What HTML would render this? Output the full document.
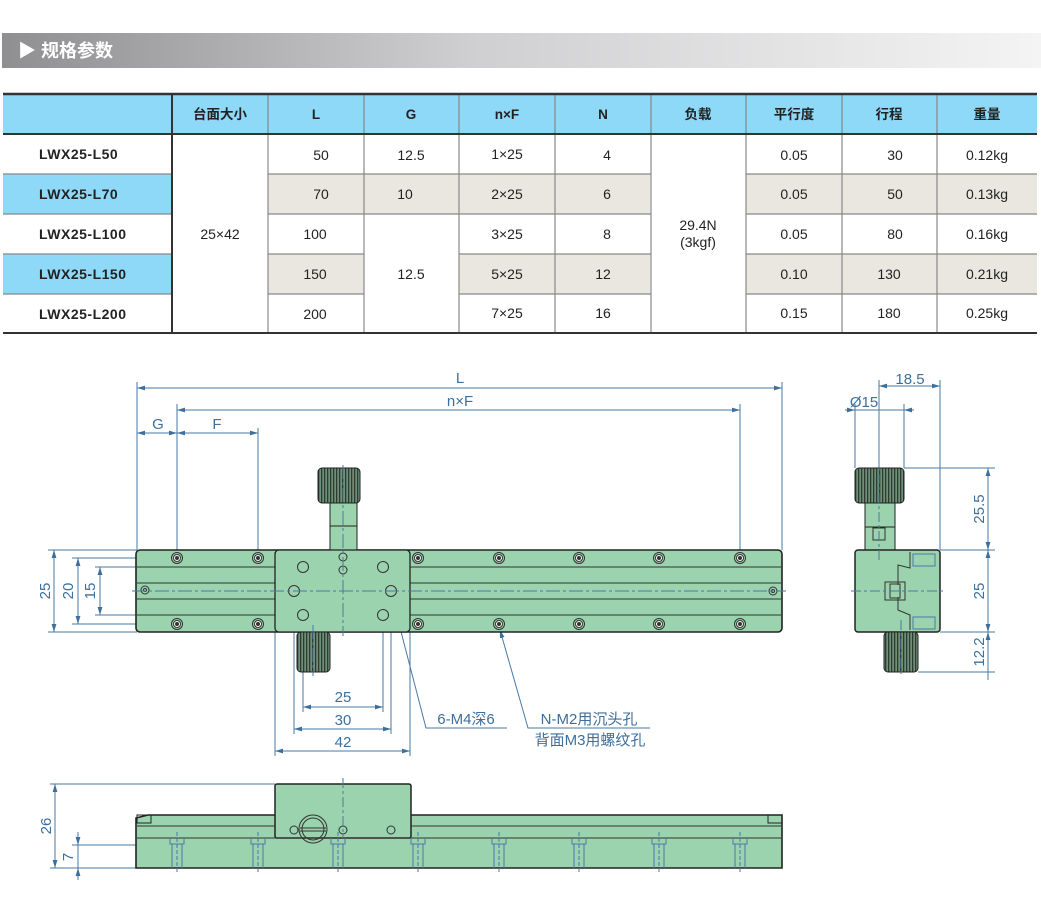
<!DOCTYPE html>
<html><head><meta charset="utf-8"><style>
html,body{margin:0;padding:0;background:#fff;width:1041px;height:909px;overflow:hidden}
svg{display:block}
text{font-family:"Liberation Sans","Noto Sans CJK SC",sans-serif}
</style></head><body>
<svg width="1041" height="909" viewBox="0 0 1041 909" xmlns="http://www.w3.org/2000/svg">
<defs>
<linearGradient id="tg" x1="0" x2="1"><stop offset="0" stop-color="#8f8f91"/><stop offset="0.45" stop-color="#cfcfd1"/><stop offset="1" stop-color="#f4f4f4"/></linearGradient>
<marker id="a" viewBox="0 0 10 10" refX="10" refY="5" markerWidth="8" markerHeight="8" orient="auto-start-reverse"><path d="M0,2 L10,5 L0,8z" fill="#3d6f9c"/></marker>
<pattern id="kn" width="3" height="4" patternUnits="userSpaceOnUse"><rect width="3" height="4" fill="#6f8f78"/><rect width="1.3" height="4" fill="#2d3b31"/></pattern>
</defs>
<rect x="2" y="33" width="1039" height="35" fill="url(#tg)"/>
<text x="18" y="57" font-size="18" font-weight="bold" fill="#fff">▶ 规格参数</text>

<g font-size="14" fill="#222">
<rect x="3" y="95" width="1034" height="39" fill="#8ed8f8"/>
<rect x="3" y="174" width="169" height="40" fill="#8ed8f8"/>
<rect x="3" y="254" width="169" height="40" fill="#8ed8f8"/>
<g fill="#eae7e0">
<rect x="268" y="174" width="382" height="40"/><rect x="746" y="174" width="291" height="40"/>
<rect x="268" y="254" width="96" height="40"/><rect x="459" y="254" width="191" height="40"/><rect x="746" y="254" width="291" height="40"/>
</g>
<g stroke="#888" stroke-width="1.2">
<line x1="3" y1="174" x2="172" y2="174"/><line x1="3" y1="214" x2="172" y2="214"/><line x1="3" y1="254" x2="172" y2="254"/><line x1="3" y1="294" x2="172" y2="294"/>
<line x1="268" y1="174" x2="651" y2="174"/><line x1="268" y1="214" x2="651" y2="214"/><line x1="268" y1="254" x2="364" y2="254"/><line x1="459" y1="254" x2="651" y2="254"/><line x1="268" y1="294" x2="364" y2="294"/><line x1="459" y1="294" x2="651" y2="294"/>
<line x1="746" y1="174" x2="1037" y2="174"/><line x1="746" y1="214" x2="1037" y2="214"/><line x1="746" y1="254" x2="1037" y2="254"/><line x1="746" y1="294" x2="1037" y2="294"/>
<line x1="268" y1="95" x2="268" y2="333"/><line x1="364" y1="95" x2="364" y2="333"/><line x1="459" y1="95" x2="459" y2="333"/><line x1="555" y1="95" x2="555" y2="333"/><line x1="651" y1="95" x2="651" y2="333"/><line x1="746" y1="95" x2="746" y2="333"/><line x1="842" y1="95" x2="842" y2="333"/><line x1="937" y1="95" x2="937" y2="333"/>
</g>
<line x1="172" y1="95" x2="172" y2="333" stroke="#333" stroke-width="2"/>
<line x1="3" y1="94" x2="1037" y2="94" stroke="#333" stroke-width="2.5"/>
<line x1="3" y1="134" x2="1037" y2="134" stroke="#333" stroke-width="2"/>
<line x1="3" y1="333" x2="1037" y2="333" stroke="#333" stroke-width="2"/>
<g font-weight="bold" text-anchor="middle" font-size="13.5">
<text x="220" y="119">台面大小</text><text x="316" y="119">L</text><text x="411" y="119">G</text><text x="507" y="119">n×F</text><text x="603" y="119">N</text><text x="698" y="119">负载</text><text x="794" y="119">平行度</text><text x="889" y="119">行程</text><text x="987" y="119">重量</text>
</g>
<g font-weight="bold" font-size="14" letter-spacing="0.5">
<text x="39" y="159">LWX25-L50</text><text x="39" y="199">LWX25-L70</text><text x="39" y="239">LWX25-L100</text><text x="39" y="279">LWX25-L150</text><text x="39" y="319">LWX25-L200</text>
</g>
<g text-anchor="middle">
<text x="220" y="239">25×42</text>
<text x="321" y="160">50</text><text x="321" y="199">70</text><text x="315" y="239">100</text><text x="315" y="279">150</text><text x="315" y="319">200</text>
<text x="411" y="160">12.5</text><text x="405" y="199">10</text><text x="411" y="279">12.5</text>
<text x="507" y="159">1×25</text><text x="507" y="199">2×25</text><text x="507" y="239">3×25</text><text x="507" y="279">5×25</text><text x="507" y="318">7×25</text>
<text x="607" y="160">4</text><text x="607" y="199">6</text><text x="607" y="239">8</text><text x="603" y="279">12</text><text x="603" y="318">16</text>
<text x="698" y="230">29.4N</text><text x="698" y="247">(3kgf)</text>
<text x="794" y="160">0.05</text><text x="794" y="199">0.05</text><text x="794" y="239">0.05</text><text x="794" y="279">0.10</text><text x="794" y="318">0.15</text>
<text x="895" y="160">30</text><text x="895" y="199">50</text><text x="895" y="239">80</text><text x="889" y="279">130</text><text x="889" y="318">180</text>
<text x="987" y="160">0.12kg</text><text x="987" y="199">0.13kg</text><text x="987" y="239">0.16kg</text><text x="987" y="279">0.21kg</text><text x="987" y="318">0.25kg</text>
</g>
</g>

<g stroke="#4a7aa6" stroke-width="1" fill="none">
<line x1="137" y1="382" x2="137" y2="550"/><line x1="782" y1="382" x2="782" y2="550"/>
<line x1="177" y1="404" x2="177" y2="566"/><line x1="740" y1="404" x2="740" y2="566"/><line x1="258" y1="428" x2="258" y2="566"/>
<line x1="137" y1="388" x2="782" y2="388" marker-start="url(#a)" marker-end="url(#a)"/>
<line x1="177" y1="410" x2="740" y2="410" marker-start="url(#a)" marker-end="url(#a)"/>
<line x1="137" y1="433" x2="177" y2="433" marker-start="url(#a)" marker-end="url(#a)"/>
<line x1="177" y1="433" x2="258" y2="433" marker-start="url(#a)" marker-end="url(#a)"/>
<line x1="48" y1="550" x2="137" y2="550"/><line x1="48" y1="632" x2="137" y2="632"/>
<line x1="72" y1="558" x2="170" y2="558"/><line x1="72" y1="624" x2="170" y2="624"/>
<line x1="95" y1="567" x2="270" y2="567"/><line x1="95" y1="615" x2="270" y2="615"/>
<line x1="54" y1="550" x2="54" y2="632" marker-start="url(#a)" marker-end="url(#a)"/>
<line x1="78" y1="558" x2="78" y2="624" marker-start="url(#a)" marker-end="url(#a)"/>
<line x1="100" y1="567" x2="100" y2="615" marker-start="url(#a)" marker-end="url(#a)"/>
<line x1="303" y1="620" x2="303" y2="712"/><line x1="383" y1="620" x2="383" y2="712"/>
<line x1="294" y1="596" x2="294" y2="734"/><line x1="391" y1="596" x2="391" y2="734"/>
<line x1="275" y1="632" x2="275" y2="756"/><line x1="410" y1="632" x2="410" y2="756"/>
<line x1="303" y1="707" x2="383" y2="707" marker-start="url(#a)" marker-end="url(#a)"/>
<line x1="294" y1="729" x2="391" y2="729" marker-start="url(#a)" marker-end="url(#a)"/>
<line x1="275" y1="751" x2="410" y2="751" marker-start="url(#a)" marker-end="url(#a)"/>
<polyline points="392,597 426,728 507,728" marker-start="url(#a)"/>
<polyline points="500,630 528,728 650,728" marker-start="url(#a)"/>
</g>
<g fill="#3d6f9c" font-size="15" text-anchor="middle">
<text x="460" y="383">L</text><text x="460" y="406">n×F</text><text x="158" y="429">G</text><text x="217" y="429">F</text>
<text x="343" y="702">25</text><text x="343" y="725">30</text><text x="343" y="747">42</text>
<text transform="translate(50,591) rotate(-90)">25</text>
<text transform="translate(73,591) rotate(-90)">20</text>
<text transform="translate(95,591) rotate(-90)">15</text>
<text x="466" y="724">6-M4深6</text>
<text x="589" y="724">N-M2用沉头孔</text>
<text x="590" y="745">背面M3用螺纹孔</text>
</g>
<rect x="136" y="550" width="646" height="82" rx="4" fill="#9ad3ae" stroke="#222" stroke-width="1.6"/>
<g stroke="#333" stroke-width="1">
<line x1="137" y1="567" x2="781" y2="567"/><line x1="137" y1="583" x2="781" y2="583"/><line x1="137" y1="599" x2="781" y2="599"/><line x1="137" y1="615" x2="781" y2="615"/>
</g>
<rect x="330" y="503" width="27" height="47" fill="#9ad3ae" stroke="#222"/>
<line x1="330" y1="526" x2="357" y2="526" stroke="#222"/>
<rect x="318" y="468" width="42" height="35" rx="4" fill="url(#kn)" stroke="#222"/>
<rect x="275" y="550" width="135" height="82" rx="4" fill="#9ad3ae" stroke="#222" stroke-width="1.3"/>
<rect x="297" y="632" width="33" height="40" rx="4" fill="url(#kn)" stroke="#222"/>
<g fill="none" stroke="#333" stroke-width="1">
<circle cx="303" cy="567" r="5.5"/><circle cx="383" cy="567" r="5.5"/><circle cx="294" cy="591" r="5.5"/><circle cx="391" cy="591" r="5.5"/><circle cx="303" cy="615" r="5.5"/><circle cx="383" cy="615" r="5.5"/><circle cx="343" cy="557" r="4"/><circle cx="343" cy="570" r="4"/>
<circle cx="145" cy="590" r="4"/><circle cx="145" cy="590" r="1.5"/><circle cx="773" cy="591" r="4"/><circle cx="773" cy="591" r="1.5"/>
</g>
<g stroke="#333" stroke-width="1" fill="#9ad3ae">
<g id="h"><circle cx="177" cy="558" r="5.5"/><circle cx="177" cy="558" r="3.5" fill="#fff"/><circle cx="177" cy="558" r="1.5" fill="#333"/></g>
<use href="#h" x="81"/><use href="#h" x="241"/><use href="#h" x="322"/><use href="#h" x="402"/><use href="#h" x="482"/><use href="#h" x="563"/>
<use href="#h" y="66"/><use href="#h" x="81" y="66"/><use href="#h" x="241" y="66"/><use href="#h" x="322" y="66"/><use href="#h" x="402" y="66"/><use href="#h" x="482" y="66"/><use href="#h" x="563" y="66"/>
</g>
<g stroke="#4a7aa6" stroke-width="1" stroke-dasharray="14,3,3,3" fill="none">
<line x1="132" y1="591" x2="786" y2="591"/><line x1="343" y1="465" x2="343" y2="636"/><line x1="313" y1="625" x2="313" y2="676"/>
</g>

<g stroke="#4a7aa6" stroke-width="1" fill="none">
<line x1="879" y1="380" x2="879" y2="468"/><line x1="940" y1="380" x2="940" y2="550"/>
<line x1="855" y1="404" x2="855" y2="468"/><line x1="904" y1="404" x2="904" y2="468"/>
<line x1="879" y1="386" x2="940" y2="386" marker-start="url(#a)" marker-end="url(#a)"/>
<line x1="845" y1="410" x2="855" y2="410" marker-end="url(#a)"/><line x1="914" y1="410" x2="904" y2="410" marker-end="url(#a)"/><line x1="855" y1="410" x2="904" y2="410"/>
<line x1="904" y1="468" x2="995" y2="468"/><line x1="940" y1="550" x2="995" y2="550"/><line x1="940" y1="632" x2="995" y2="632"/><line x1="918" y1="672" x2="995" y2="672"/>
<line x1="988" y1="468" x2="988" y2="550" marker-start="url(#a)" marker-end="url(#a)"/>
<line x1="988" y1="550" x2="988" y2="632" marker-start="url(#a)" marker-end="url(#a)"/>
<line x1="988" y1="632" x2="988" y2="680" marker-start="url(#a)"/>
</g>
<g fill="#3d6f9c" font-size="15" text-anchor="middle">
<text x="910" y="384">18.5</text><text x="864" y="407">Ø15</text>
<text transform="translate(984,509) rotate(-90)">25.5</text>
<text transform="translate(984,591) rotate(-90)">25</text>
<text transform="translate(984,652) rotate(-90)">12.2</text>
</g>
<rect x="865" y="503" width="30" height="47" fill="#9ad3ae" stroke="#222"/>
<line x1="865" y1="527" x2="895" y2="527" stroke="#222"/>
<rect x="873" y="528" width="12" height="12" fill="none" stroke="#333"/>
<rect x="855" y="468" width="49" height="35" rx="4" fill="url(#kn)" stroke="#222"/>
<rect x="855" y="550" width="85" height="82" rx="3" fill="#9ad3ae" stroke="#222" stroke-width="1.5"/>
<rect x="884" y="632" width="34" height="40" rx="4" fill="url(#kn)" stroke="#222"/>
<g stroke="#333" fill="none">
<polyline points="910,552 910,568 898,565 898,585"/><polyline points="898,597 898,610 910,615 910,630"/>
<rect x="885" y="582" width="20" height="18"/><rect x="890" y="584" width="10" height="14"/>
<rect x="913" y="554" width="22" height="12" stroke="#4a7aa6"/><rect x="913" y="617" width="22" height="12" stroke="#4a7aa6"/>
</g>
<g stroke="#4a7aa6" stroke-dasharray="10,3,3,3" fill="none">
<line x1="851" y1="591" x2="944" y2="591"/><line x1="879" y1="455" x2="879" y2="560"/><line x1="901" y1="620" x2="901" y2="676"/>
</g>

<g stroke="#4a7aa6" stroke-width="1" fill="none">
<line x1="50" y1="784" x2="275" y2="784"/><line x1="50" y1="868" x2="136" y2="868"/><line x1="72" y1="845" x2="165" y2="845"/>
<line x1="55" y1="784" x2="55" y2="868" marker-start="url(#a)" marker-end="url(#a)"/>
<line x1="78" y1="832" x2="78" y2="845" marker-end="url(#a)"/><line x1="78" y1="880" x2="78" y2="868" marker-end="url(#a)"/><line x1="78" y1="845" x2="78" y2="868"/>
</g>
<g fill="#3d6f9c" font-size="15" text-anchor="middle">
<text transform="translate(51,826) rotate(-90)">26</text>
<text transform="translate(73,857) rotate(-90)">7</text>
</g>
<path d="M136,868 L136,818 L148,815 L770,815 L782,815 L782,868 Z" fill="#9ad3ae" stroke="#222" stroke-width="1.6"/>
<rect x="137" y="815" width="14" height="8" fill="none" stroke="#222"/><rect x="768" y="815" width="14" height="8" fill="none" stroke="#222"/>
<rect x="275" y="784" width="136" height="54" rx="2" fill="#9ad3ae" stroke="#222" stroke-width="1.5"/>
<g stroke="#333"><line x1="137" y1="826" x2="275" y2="826"/><line x1="411" y1="826" x2="781" y2="826"/><line x1="137" y1="838" x2="781" y2="838"/></g>
<g fill="none" stroke="#333">
<circle cx="313" cy="829" r="14"/><circle cx="313" cy="829" r="11"/><line x1="300" y1="828" x2="326" y2="828"/><line x1="300" y1="831" x2="326" y2="831"/>
<circle cx="294" cy="830" r="4"/><circle cx="343" cy="830" r="4"/><circle cx="391" cy="830" r="4"/>
</g>
<g stroke="#4a7aa6" fill="none">
<g id="s"><path d="M170,838 v6 h14 v-6 M172,844 v24 M182,844 v24"/><line x1="177" y1="832" x2="177" y2="872" stroke-dasharray="4,2"/></g>
<use href="#s" x="81"/><use href="#s" x="161"/><use href="#s" x="241"/><use href="#s" x="322"/><use href="#s" x="402"/><use href="#s" x="482"/><use href="#s" x="563"/>
<line x1="343" y1="778" x2="343" y2="838" stroke-dasharray="10,3,3,3"/>
</g>
</svg>
</body></html>
